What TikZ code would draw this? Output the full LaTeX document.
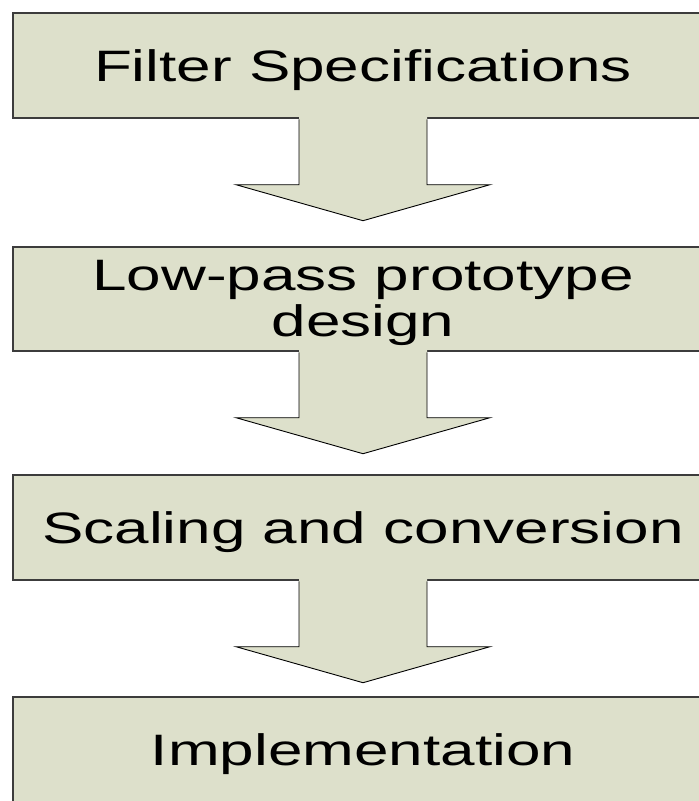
\documentclass[tikz,border=0pt]{standalone}
\usepackage{fontspec}
\setmainfont{Liberation Sans}
\usetikzlibrary{calc}
\definecolor{boxfill}{RGB}{221,224,203}
\definecolor{boxline}{RGB}{60,60,60}
\newcommand{\wtext}[1]{\raisebox{-5pt}[\height][\depth]{\scalebox{1.41}[1]{#1}}}
\begin{document}
\begin{tikzpicture}[x=1pt,y=-1pt,
  stagebox/.style={draw=boxline, line width=1.4pt, fill=boxfill, rectangle,
    minimum width=700pt, minimum height=105pt, inner sep=0pt,
    font=\fontsize{44}{48}\selectfont, align=center},
  arrowfill/.style={fill=boxfill},
  arrowline/.style={draw=black, line width=0.9pt, line join=miter}]
\useasboundingbox (0,0) rectangle (699,801);
\node[stagebox] (b1) at (363,65.5) {\wtext{Filter Specifications}};
\node[stagebox, minimum height=104pt] (b2) at (363,299) {\wtext{\begin{tabular}{@{}c@{}}Low-pass prototype\\[-2pt]design\end{tabular}}};
\node[stagebox] (b3) at (363,527.5) {\wtext{Scaling and conversion}};
\node[stagebox] (b4) at (363,749.5) {\wtext{Implementation}};
\foreach \u in {b1,b2,b3}{
  \fill[arrowfill] ($(\u.south)+(-64,-2)$) -- ($(\u.south)+(-64,66)$) -- ($(\u.south)+(-127,66)$)
    -- ($(\u.south)+(0,102)$) -- ($(\u.south)+(127,66)$) -- ($(\u.south)+(64,66)$)
    -- ($(\u.south)+(64,-2)$) -- cycle;
  \draw[arrowline] ($(\u.south)+(-64,0.7)$) -- ($(\u.south)+(-64,66)$) -- ($(\u.south)+(-127,66)$)
    -- ($(\u.south)+(0,102)$) -- ($(\u.south)+(127,66)$) -- ($(\u.south)+(64,66)$)
    -- ($(\u.south)+(64,0.7)$);
}
\end{tikzpicture}
\end{document}
